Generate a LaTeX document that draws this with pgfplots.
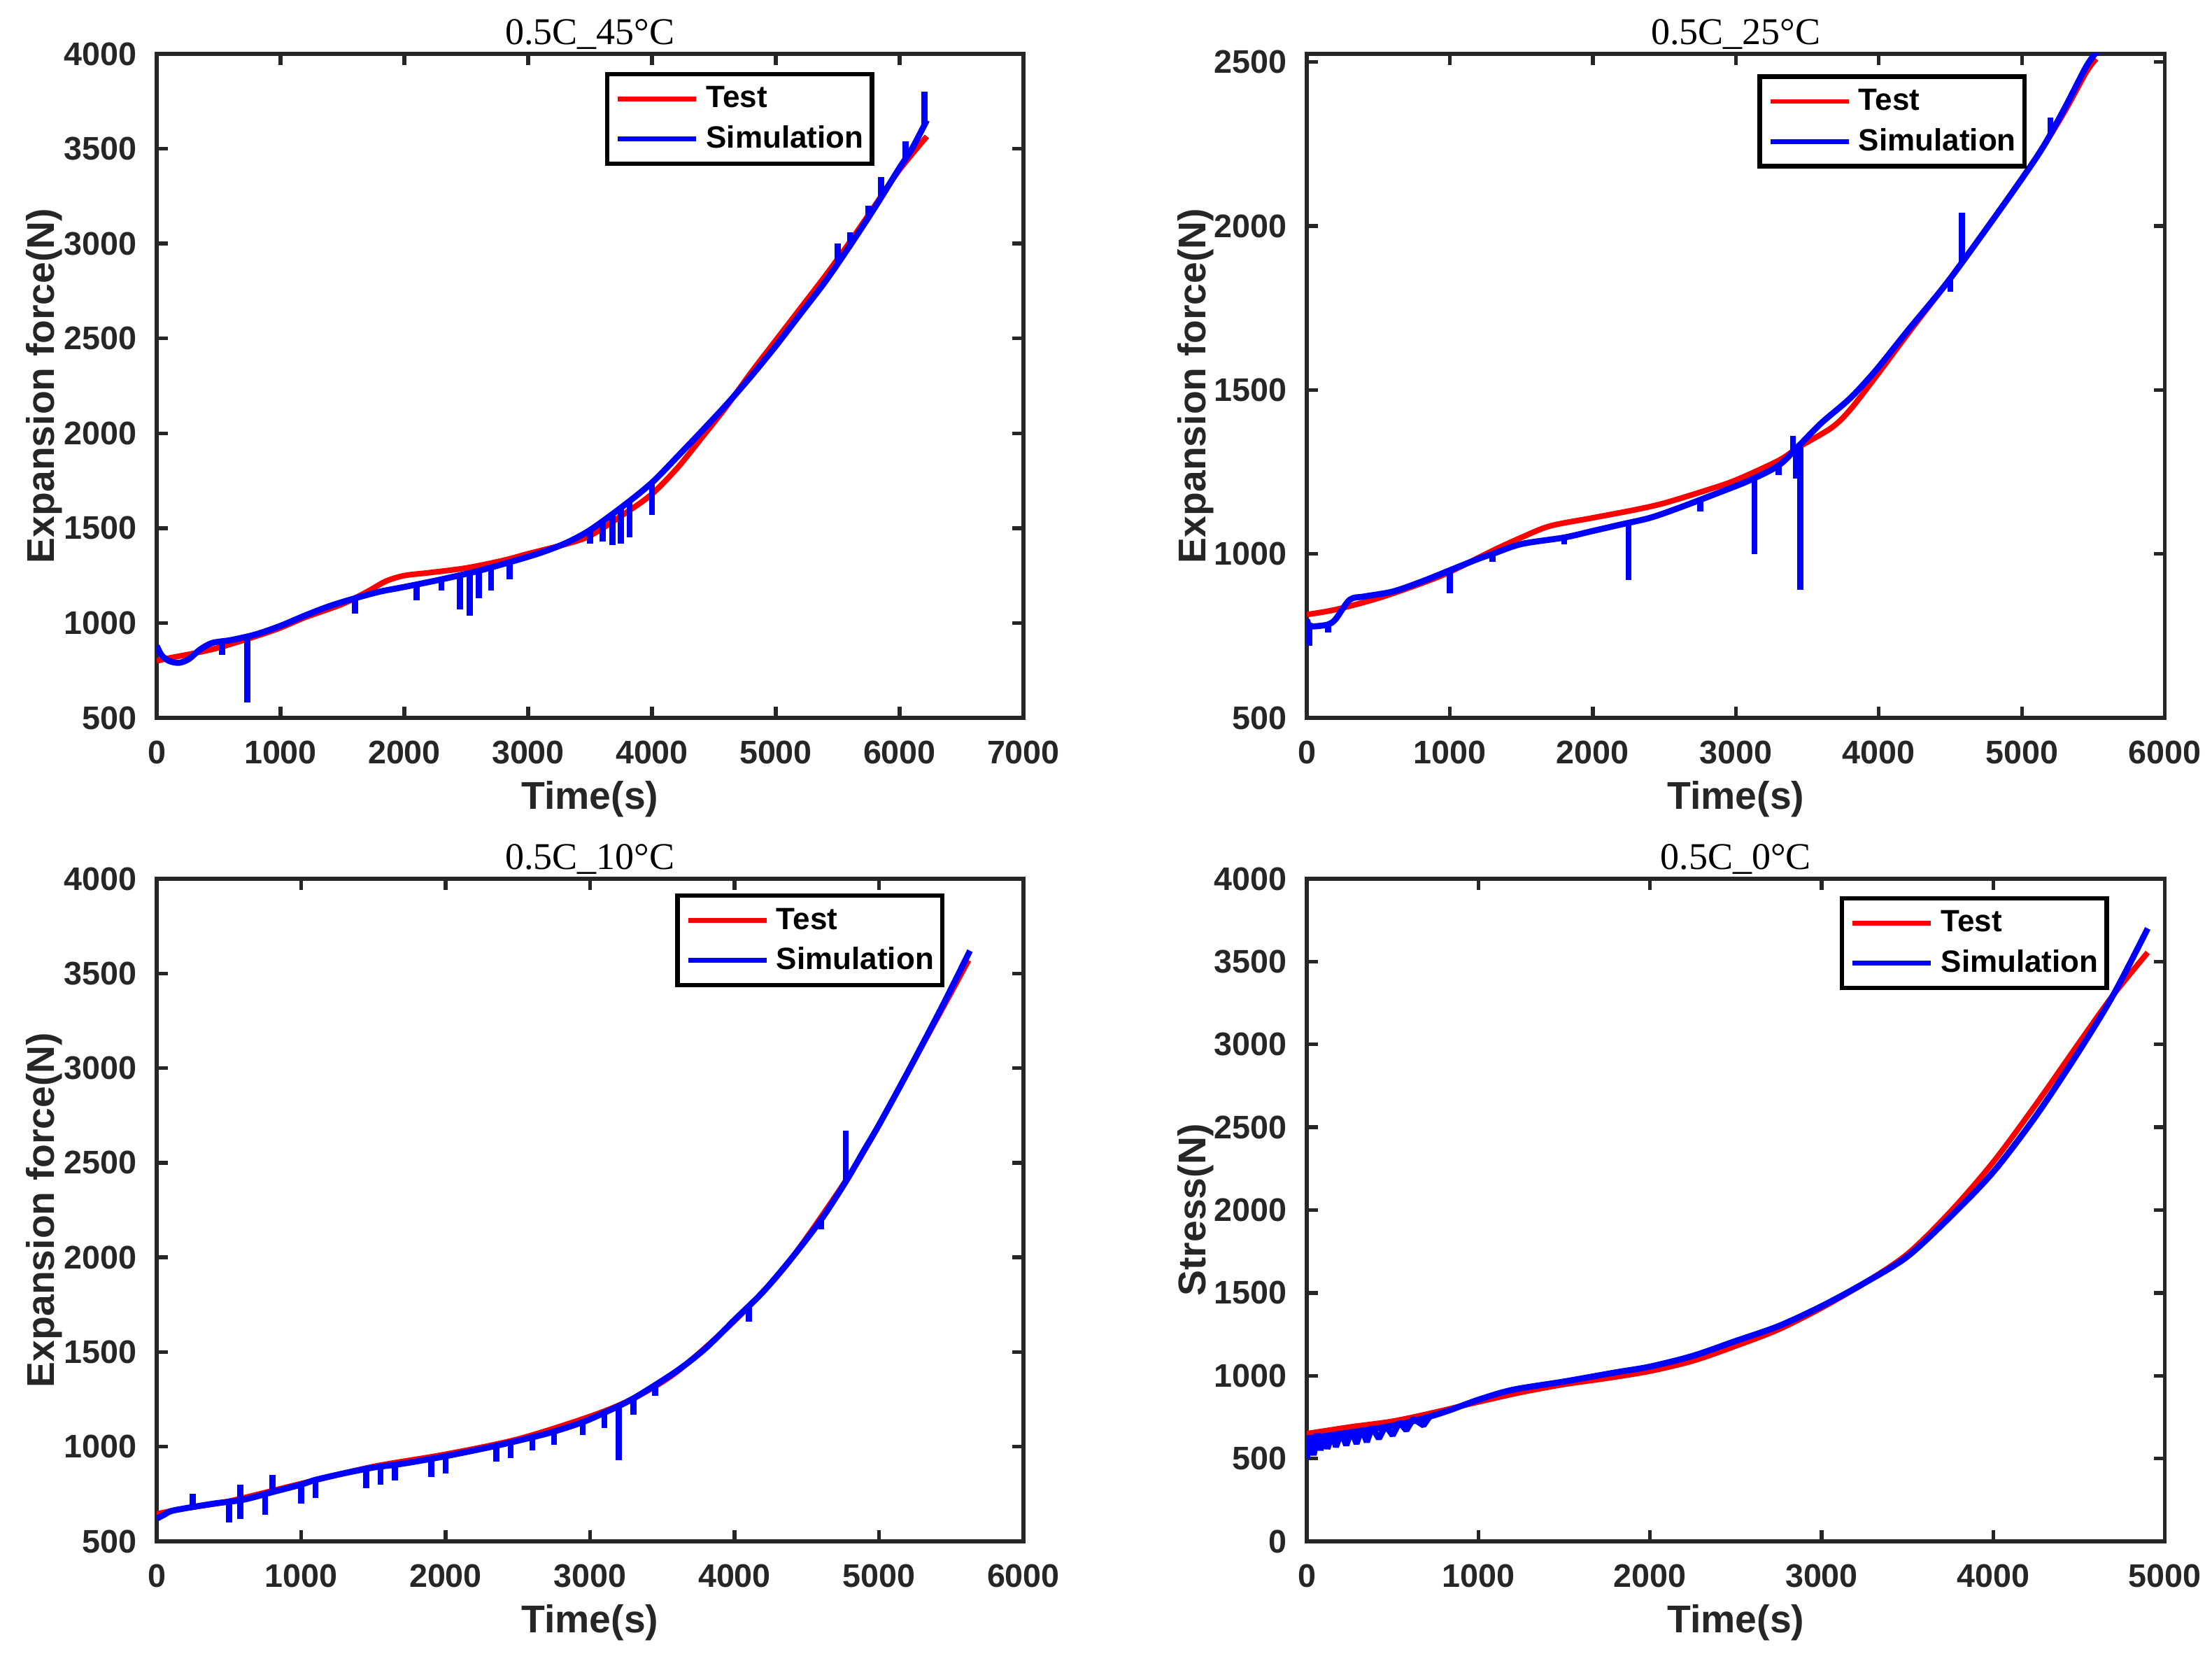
\documentclass[border=0pt]{standalone}
\usepackage{fontspec}
\setmainfont{Liberation Sans}
\newfontfamily\titlefont{Liberation Serif}
\usepackage{pgfplots}
\pgfplotsset{compat=1.18}
\definecolor{axgray}{RGB}{38,38,38}
\pgfplotsset{
 every axis title/.style={at={(axis description cs:0.5,1.014)}, anchor=base, font=\titlefont\fontsize{8.1}{9}\selectfont, text=black},
 myax/.style={
  scale only axis, anchor=south west,
  axis line style={axgray, line width=0.8pt},
  every tick/.style={axgray, line width=0.8pt},
  major tick length=2.4pt,
  tick align=inside, tick pos=both,
  tick label style={font=\fontsize{7}{8}\selectfont\bfseries, text=axgray},
  /pgf/number format/assume math mode=true,
  /pgf/number format/1000 sep={},
  scaled ticks=false,
  unbounded coords=jump,
  xticklabel style={yshift=-1.4pt},
  yticklabel style={xshift=-0.8pt},
  label style={font=\fontsize{8.3}{9}\selectfont\bfseries, text=axgray},
  xlabel style={at={(axis description cs:0.5,-0.138)}, anchor=base},
  ylabel style={at={(axis description cs:-0.118,0.5)}, anchor=base},
  legend style={draw=black, line width=1pt, font=\fontsize{6.6}{7}\selectfont\bfseries, text=black,
    anchor=north east, inner xsep=1.8pt, inner ysep=1pt, row sep=0pt,
    nodes={inner xsep=0pt, inner ysep=1pt, text height=5.2pt, text depth=1.4pt},
    /tikz/every odd column/.append style={column sep=1.65pt}},
  legend cell align=left,
  legend image code/.code={\draw[#1, line width=1pt] (0pt,0pt) -- (16.8pt,0pt);},
  every axis plot/.append style={line join=bevel},
  tst/.style={red, line width=1.2pt, smooth, tension=0.5},
  sim/.style={blue, line width=1.3pt, smooth, tension=0.5},
  spk/.style={blue, line width=1.3pt, forget plot},
  xlabel={Time(s)},
 }
}
\begin{document}
\begin{tikzpicture}
\useasboundingbox (0,0) rectangle (474.3pt,356.1pt);
% ---------------- 0.5C 45C ----------------
\begin{axis}[myax, at={(33.6pt,202.2pt)}, width=185.85pt, height=142.35pt,
  xmin=0, xmax=7000, ymin=500, ymax=4000,
  xtick={0,1000,...,7000}, ytick={500,1000,...,4000},
  ylabel={Expansion force(N)}, title={0.5C\_45°C},
  legend style={at={(rel axis cs:0.828,0.973)}}]
\addplot[tst] coordinates {(0,800)(100,815)(300,840)(500,870)(800,930)(1000,975)(1200,1030)(1500,1100)(1700,1165)(1850,1220)(2000,1250)(2200,1265)(2500,1290)(2800,1330)(3000,1365)(3300,1415)(3500,1460)(3774,1574)(4000,1680)(4210,1821)(4400,1975)(4600,2140)(4800,2320)(5000,2490)(5200,2660)(5400,2830)(5600,3010)(5800,3200)(6000,3390)(6220,3565)};
\addlegendentry{Test}
\addplot[sim] coordinates {(0,880)(40,830)(100,800)(180,790)(260,810)(350,860)(450,895)(600,910)(800,940)(1000,985)(1200,1040)(1400,1090)(1600,1130)(1800,1165)(2000,1190)(2300,1230)(2600,1275)(2900,1330)(3100,1370)(3300,1420)(3500,1490)(3774,1620)(4000,1740)(4210,1880)(4400,2010)(4600,2150)(4800,2300)(5000,2460)(5200,2630)(5400,2800)(5600,2990)(5800,3190)(6000,3400)(6100,3500)(6220,3650)};
\addlegendentry{Simulation}
\addplot[spk] coordinates {(530,900)(530,830)(530,nan)(730,925)(730,580)(730,nan)(1600,1130)(1600,1050)(1600,nan)(2100,1200)(2100,1120)(2100,nan)(2300,1230)(2300,1170)(2300,nan)(2450,1255)(2450,1070)(2450,nan)(2530,1265)(2530,1040)(2530,nan)(2600,1275)(2600,1130)(2600,nan)(2700,1290)(2700,1170)(2700,nan)(2850,1320)(2850,1230)(2850,nan)(3500,1490)(3500,1420)(3500,nan)(3600,1535)(3600,1430)(3600,nan)(3680,1575)(3680,1410)(3680,nan)(3750,1608)(3750,1420)(3750,nan)(3820,1645)(3820,1450)(3820,nan)(4000,1740)(4000,1570)(4000,nan)(5500,2890)(5500,3000)(5500,nan)(5600,2990)(5600,3060)(5600,nan)(5750,3140)(5750,3200)(5750,nan)(5850,3240)(5850,3350)(5850,nan)(6050,3450)(6050,3540)(6050,nan)(6200,3630)(6200,3800)};
\end{axis}
% ---------------- 0.5C 25C ----------------
\begin{axis}[myax, at={(280.2pt,202.2pt)}, width=184pt, height=142.35pt,
  xmin=0, xmax=6000, ymin=500, ymax=2525,
  xtick={0,1000,...,6000}, ytick={500,1000,...,2500},
  ylabel={Expansion force(N)}, title={0.5C\_25°C},
  legend style={at={(rel axis cs:0.839,0.969)}}]
\addplot[tst] coordinates {(0,815)(200,830)(500,865)(800,910)(1000,945)(1300,1010)(1500,1050)(1700,1085)(2000,1110)(2300,1135)(2500,1155)(2800,1195)(3000,1225)(3300,1285)(3441,1326)(3670,1385)(3800,1440)(3985,1544)(4200,1670)(4466,1821)(4700,1960)(4971,2126)(5147,2240)(5300,2350)(5451,2470)(5520,2510)};
\addlegendentry{Test}
\addplot[sim] coordinates {(0,800)(20,780)(80,780)(150,785)(200,800)(300,860)(400,870)(600,885)(800,915)(1000,950)(1200,985)(1300,1000)(1500,1030)(1800,1050)(2000,1070)(2200,1090)(2400,1110)(2600,1140)(2900,1190)(3100,1225)(3300,1270)(3441,1330)(3600,1400)(3800,1475)(3985,1563)(4200,1680)(4466,1821)(4700,1960)(4971,2126)(5147,2240)(5300,2360)(5451,2487)(5530,2535)};
\addlegendentry{Simulation}
\addplot[spk] coordinates {(20,790)(20,720)(20,nan)(150,785)(150,760)(150,nan)(1000,950)(1000,880)(1000,nan)(1300,1000)(1300,975)(1300,nan)(1800,1050)(1800,1030)(1800,nan)(2250,1095)(2250,920)(2250,nan)(2750,1165)(2750,1130)(2750,nan)(3130,1230)(3130,1000)(3130,nan)(3300,1270)(3300,1240)(3300,nan)(3400,1310)(3400,1360)(3400,nan)(3420,1315)(3420,1230)(3420,nan)(3450,1325)(3450,890)(3450,nan)(4500,1840)(4500,1800)(4500,nan)(4580,1889)(4580,2040)(4580,nan)(5200,2275)(5200,2330)};
\end{axis}
% ---------------- 0.5C 10C ----------------
\begin{axis}[myax, at={(33.6pt,25.65pt)}, width=185.85pt, height=142.05pt,
  xmin=0, xmax=6000, ymin=500, ymax=4000,
  xtick={0,1000,...,6000}, ytick={500,1000,...,4000},
  ylabel={Expansion force(N)}, title={0.5C\_10°C},
  legend style={at={(rel axis cs:0.909,0.978)}}]
\addplot[tst] coordinates {(0,645)(200,675)(500,712)(1000,805)(1500,895)(2000,960)(2500,1040)(3000,1160)(3300,1255)(3600,1395)(4000,1665)(4300,1905)(4500,2105)(4800,2440)(5000,2700)(5300,3120)(5500,3400)(5620,3570)};
\addlegendentry{Test}
\addplot[sim] coordinates {(0,620)(50,640)(100,660)(200,675)(400,700)(600,720)(800,760)(1000,800)(1100,825)(1300,860)(1500,890)(1700,910)(2000,950)(2350,1005)(2600,1050)(2750,1080)(2950,1130)(3100,1180)(3300,1255)(3600,1400)(3800,1520)(4000,1670)(4200,1820)(4400,2000)(4600,2200)(4770,2400)(4900,2570)(5000,2700)(5200,2980)(5400,3270)(5500,3420)(5630,3620)};
\addlegendentry{Simulation}
\addplot[spk] coordinates {(250,680)(250,750)(250,nan)(500,705)(500,600)(500,nan)(580,800)(580,620)(580,nan)(750,745)(750,640)(750,nan)(800,760)(800,850)(800,nan)(1000,800)(1000,700)(1000,nan)(1100,825)(1100,730)(1100,nan)(1450,880)(1450,780)(1450,nan)(1550,895)(1550,800)(1550,nan)(1650,905)(1650,820)(1650,nan)(1900,935)(1900,840)(1900,nan)(2000,950)(2000,860)(2000,nan)(2350,1005)(2350,920)(2350,nan)(2450,1020)(2450,940)(2450,nan)(2600,1050)(2600,980)(2600,nan)(2750,1080)(2750,1010)(2750,nan)(2950,1130)(2950,1060)(2950,nan)(3100,1180)(3100,1100)(3100,nan)(3200,1215)(3200,930)(3200,nan)(3300,1255)(3300,1170)(3300,nan)(3450,1320)(3450,1270)(3450,nan)(4100,1745)(4100,1660)(4100,nan)(4600,2200)(4600,2150)(4600,nan)(4770,2400)(4770,2670)};
\end{axis}
% ---------------- 0.5C 0C ----------------
\begin{axis}[myax, at={(280.2pt,25.65pt)}, width=184pt, height=142.05pt,
  xmin=0, xmax=5000, ymin=0, ymax=4000,
  xtick={0,1000,...,5000}, ytick={0,500,...,4000},
  ylabel={Stress(N)}, title={0.5C\_0°C},
  legend style={at={(rel axis cs:0.935,0.974)}}]
\addplot[tst] coordinates {(0,650)(250,690)(500,725)(750,780)(1000,842)(1250,900)(1500,948)(1750,985)(2000,1028)(2250,1090)(2500,1180)(2750,1280)(3000,1410)(3250,1560)(3500,1735)(3750,1990)(4000,2290)(4250,2640)(4500,3010)(4700,3300)(4900,3555)};
\addlegendentry{Test}
\addplot[sim] coordinates {(0,620)(200,650)(400,680)(600,720)(800,780)(1000,855)(1200,915)(1500,965)(1800,1020)(2000,1055)(2250,1120)(2500,1210)(2750,1300)(3000,1420)(3250,1560)(3500,1720)(3750,1960)(4000,2230)(4250,2570)(4500,2960)(4700,3300)(4900,3700)};
\addlegendentry{Simulation}
\addplot[spk] coordinates {(0,600)(0,500)(20,640)(40,520)(60,650)(80,550)(100,640)(120,560)(150,650)(170,570)(200,660)(230,580)(260,670)(290,590)(320,680)(350,600)(380,690)(420,620)(460,700)(500,640)(540,720)(580,670)(620,740)(680,700)(720,760)};
\end{axis}
\end{tikzpicture}
\end{document}
